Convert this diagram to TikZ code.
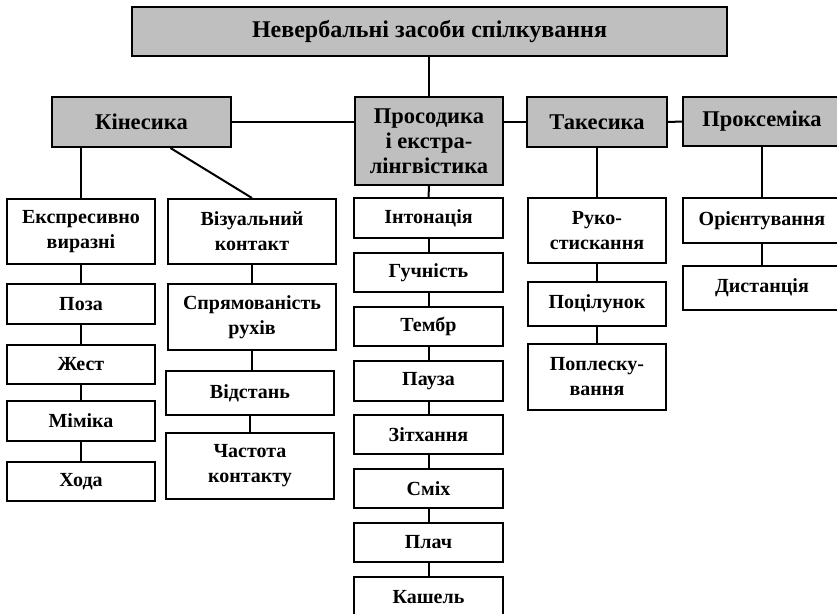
\documentclass[tikz,border=0pt]{standalone}
\usepackage{fontspec}
\setmainfont{Liberation Serif}
\usetikzlibrary{calc}
\tikzset{
  box/.style={draw=black, line width=2pt, fill=white, align=center, inner sep=0pt,
    font=\bfseries\fontsize{20}{25}\selectfont},
  gbox/.style={box, fill=gray!50, font=\bfseries\fontsize{22.5}{25}\selectfont},
  titlebox/.style={gbox, font=\bfseries\fontsize{24}{28}\selectfont},
  conn/.style={line width=2pt}
}
\begin{document}
\begin{tikzpicture}[x=1pt,y=-1pt]
\useasboundingbox (0,0) rectangle (837,613);
\clip (0,0) rectangle (837,613);
% level 0 and 1
\node[titlebox, minimum width=595, minimum height=49] (top) at (429.5,31.5) {Невербальні засоби спілкування};
\node[gbox, minimum width=179, minimum height=50] (kin) at (141.5,122) {Кінесика};
\node[gbox, minimum width=148, minimum height=88] (pros) at (429,141) {Просодика\\і екстра-\\лінгвістика};
\node[gbox, minimum width=140, minimum height=50] (tak) at (597,122) {Такесика};
\node[gbox, minimum width=158, minimum height=49] (prox) at (762,121.5) {Проксеміка};
% column 1
\node[box, minimum width=148, minimum height=65] (ek) at (81,231.5) {Експресивно\\виразні};
\node[box, minimum width=148, minimum height=40] (poza) at (81,304) {Поза};
\node[box, minimum width=148, minimum height=39] (zhest) at (81,364.5) {Жест};
\node[box, minimum width=148, minimum height=40] (mim) at (81,421) {Міміка};
\node[box, minimum width=148, minimum height=39] (hoda) at (81,481.5) {Хода};
% column 2
\node[box, minimum width=168, minimum height=65] (viz) at (252,231.5) {Візуальний\\контакт};
\node[box, minimum width=168, minimum height=66] (spr) at (252,317) {Спрямованість\\рухів};
\node[box, minimum width=168, minimum height=44] (vid) at (250,393) {Відстань};
\node[box, minimum width=168, minimum height=66] (chas) at (250,466) {Частота\\контакту};
% column 3
\node[box, minimum width=149, minimum height=40] (int) at (428.5,218) {Інтонація};
\node[box, minimum width=149, minimum height=39] (guch) at (428.5,272.5) {Гучність};
\node[box, minimum width=149, minimum height=39] (temb) at (428.5,326.5) {Тембр};
\node[box, minimum width=149, minimum height=40] (pauza) at (428.5,381) {Пауза};
\node[box, minimum width=149, minimum height=39] (zit) at (428.5,434.5) {Зітхання};
\node[box, minimum width=149, minimum height=39] (smih) at (428.5,488.5) {Сміх};
\node[box, minimum width=149, minimum height=39] (plach) at (428.5,542.5) {Плач};
\node[box, minimum width=149, minimum height=40] (kash) at (428.5,597) {Кашель};
% column 4
\node[box, minimum width=138, minimum height=65] (ruko) at (597,230.5) {Руко-\\стискання};
\node[box, minimum width=138, minimum height=44] (poc) at (597,304) {Поцілунок};
\node[box, minimum width=138, minimum height=66] (popl) at (597,377) {Поплеску-\\вання};
% column 5
\node[box, minimum width=158, minimum height=45] (orie) at (762,220.5) {Орієнтування};
\node[box, minimum width=158, minimum height=44] (dist) at (762,288) {Дистанція};
% connectors
\draw[conn] (pros.north) -- (pros.north |- top.south);
\draw[conn] (kin.east) -- (kin.east -| pros.west);
\draw[conn] (tak.west -| pros.east) -- (tak.west);
\draw[conn] (tak.east) -- (prox.west);
\draw[conn] (ek.north) -- (ek.north |- kin.south);
\draw[conn] ($(kin.south west)!0.66!(kin.south east)$) -- (viz.north);
\draw[conn] (pros.south) -- (int.north);
\draw[conn] (tak.south) -- (ruko.north);
\draw[conn] (prox.south) -- (orie.north);
\draw[conn] (ek) -- (poza) (poza) -- (zhest) (zhest) -- (mim) (mim) -- (hoda);
\draw[conn] (viz) -- (spr);
\draw[conn] (spr.south) -- (spr.south |- vid.north);
\draw[conn] (vid) -- (chas);
\draw[conn] (int) -- (guch) (guch) -- (temb) (temb) -- (pauza) (pauza) -- (zit) (zit) -- (smih) (smih) -- (plach) (plach) -- (kash);
\draw[conn] (ruko) -- (poc) (poc) -- (popl);
\draw[conn] (orie) -- (dist);
\end{tikzpicture}
\end{document}
